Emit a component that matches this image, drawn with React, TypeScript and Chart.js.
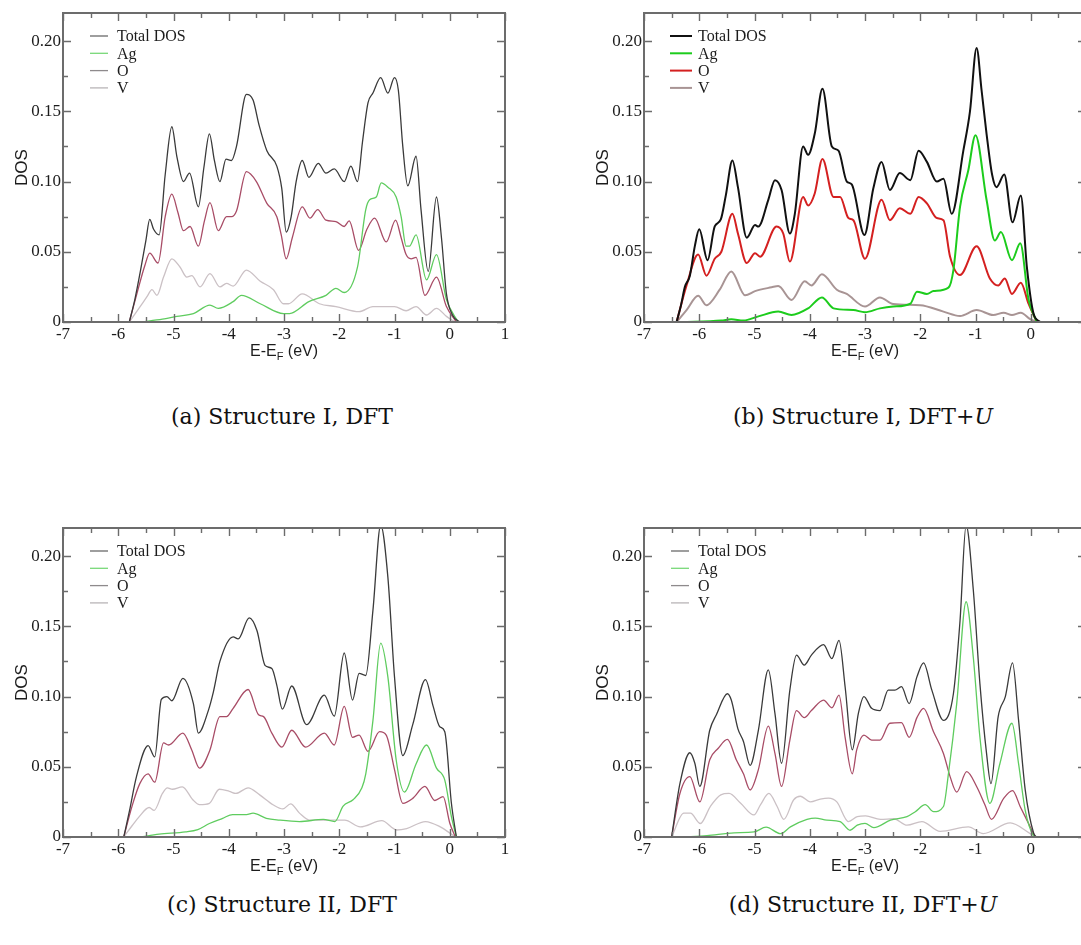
import { useEffect, useRef } from "react";
import { Chart, registerables } from "chart.js";

Chart.register(...registerables);

type Pt = [number, number];

// Energy (eV, relative to E_F) and DOS pairs for each projected curve.

// Structure I, DFT
const s1DftTotal: Pt[] = [[-5.80,0],[-5.70,0.016],[-5.60,0.036],[-5.50,0.058],[-5.43,0.073],[-5.36,0.066],[-5.26,0.062],[-5.15,0.105],[-5.03,0.139],[-4.94,0.118],[-4.82,0.100],[-4.71,0.106],[-4.55,0.082],[-4.45,0.110],[-4.35,0.134],[-4.26,0.115],[-4.16,0.100],[-4.05,0.116],[-3.95,0.115],[-3.86,0.125],[-3.68,0.162],[-3.56,0.158],[-3.45,0.140],[-3.31,0.122],[-3.13,0.111],[-3.04,0.095],[-2.96,0.064],[-2.87,0.075],[-2.78,0.100],[-2.67,0.115],[-2.55,0.103],[-2.38,0.113],[-2.24,0.106],[-2.09,0.109],[-1.91,0.100],[-1.79,0.111],[-1.67,0.100],[-1.58,0.128],[-1.48,0.156],[-1.39,0.163],[-1.25,0.174],[-1.12,0.163],[-1.00,0.174],[-0.93,0.165],[-0.85,0.125],[-0.76,0.097],[-0.61,0.118],[-0.52,0.080],[-0.39,0.036],[-0.24,0.089],[-0.15,0.060],[-0.06,0.020],[0.05,0.005],[0.18,0]];
const s1DftAg: Pt[] = [[-5.58,0],[-5.20,0.002],[-4.94,0.004],[-4.64,0.006],[-4.34,0.012],[-4.19,0.0097],[-3.92,0.0145],[-3.77,0.019],[-3.43,0.013],[-3.01,0.006],[-2.90,0.006],[-2.55,0.0145],[-2.24,0.019],[-2.06,0.024],[-1.91,0.021],[-1.67,0.039],[-1.52,0.080],[-1.45,0.087],[-1.33,0.089],[-1.24,0.099],[-1.12,0.096],[-0.97,0.089],[-0.88,0.075],[-0.79,0.054],[-0.73,0.054],[-0.61,0.062],[-0.42,0.030],[-0.24,0.048],[-0.06,0.016],[0.15,0]];
const s1DftO: Pt[] = [[-5.80,0],[-5.65,0.022],[-5.52,0.040],[-5.43,0.049],[-5.28,0.042],[-5.15,0.075],[-5.03,0.091],[-4.92,0.078],[-4.82,0.065],[-4.70,0.068],[-4.55,0.054],[-4.44,0.072],[-4.34,0.085],[-4.19,0.065],[-4.04,0.075],[-3.95,0.075],[-3.86,0.079],[-3.68,0.107],[-3.50,0.100],[-3.31,0.0845],[-3.13,0.075],[-3.05,0.062],[-2.96,0.045],[-2.85,0.060],[-2.67,0.082],[-2.53,0.074],[-2.39,0.080],[-2.24,0.0725],[-2.06,0.0715],[-1.91,0.068],[-1.82,0.072],[-1.65,0.051],[-1.50,0.066],[-1.36,0.074],[-1.15,0.057],[-0.98,0.0725],[-0.88,0.060],[-0.79,0.048],[-0.70,0.045],[-0.61,0.046],[-0.45,0.019],[-0.24,0.032],[-0.06,0.011],[0.12,0]];
const s1DftV: Pt[] = [[-5.80,0],[-5.62,0.010],[-5.48,0.018],[-5.39,0.023],[-5.30,0.019],[-5.18,0.032],[-5.03,0.045],[-4.88,0.039],[-4.76,0.032],[-4.67,0.033],[-4.52,0.025],[-4.34,0.0345],[-4.16,0.025],[-4.04,0.0275],[-3.92,0.0256],[-3.68,0.037],[-3.43,0.029],[-3.19,0.023],[-3.01,0.013],[-2.92,0.013],[-2.67,0.020],[-2.36,0.013],[-2.06,0.011],[-1.64,0.0074],[-1.39,0.011],[-1.00,0.011],[-0.79,0.008],[-0.61,0.011],[-0.42,0.005],[-0.24,0.0097],[-0.06,0.004],[0.10,0]];

// Structure I, DFT+U
const s1DftuTotal: Pt[] = [[-6.41,0],[-6.33,0.012],[-6.26,0.025],[-6.17,0.033],[-6.08,0.054],[-6.00,0.066],[-5.85,0.044],[-5.72,0.068],[-5.61,0.073],[-5.52,0.090],[-5.40,0.115],[-5.30,0.096],[-5.14,0.060],[-4.99,0.069],[-4.93,0.068],[-4.75,0.087],[-4.63,0.101],[-4.51,0.094],[-4.36,0.063],[-4.27,0.077],[-4.12,0.125],[-4.03,0.119],[-3.91,0.134],[-3.77,0.166],[-3.60,0.125],[-3.48,0.122],[-3.33,0.100],[-3.24,0.098],[-3.01,0.062],[-2.85,0.095],[-2.70,0.114],[-2.55,0.094],[-2.37,0.106],[-2.18,0.101],[-2.03,0.122],[-1.88,0.114],[-1.70,0.100],[-1.58,0.102],[-1.43,0.077],[-1.22,0.122],[-1.10,0.150],[-0.98,0.195],[-0.89,0.165],[-0.80,0.134],[-0.70,0.105],[-0.62,0.096],[-0.48,0.105],[-0.33,0.071],[-0.18,0.090],[-0.07,0.039],[0.05,0.006],[0.17,0]];
const s1DftuAg: Pt[] = [[-6.32,0],[-5.60,0.001],[-5.42,0.002],[-5.20,0.001],[-4.93,0.004],[-4.57,0.0074],[-4.33,0.005],[-4.03,0.0097],[-3.78,0.0175],[-3.57,0.0097],[-3.21,0.0085],[-3.00,0.007],[-2.73,0.0097],[-2.49,0.011],[-2.18,0.013],[-2.06,0.0216],[-1.88,0.020],[-1.76,0.022],[-1.49,0.0245],[-1.40,0.037],[-1.28,0.082],[-1.13,0.108],[-1.00,0.133],[-0.80,0.087],[-0.65,0.058],[-0.54,0.064],[-0.34,0.044],[-0.19,0.056],[-0.04,0.016],[0.11,0]];
const s1DftuO: Pt[] = [[-6.41,0],[-6.23,0.026],[-6.02,0.048],[-5.87,0.033],[-5.72,0.045],[-5.60,0.050],[-5.40,0.077],[-5.30,0.063],[-5.14,0.042],[-4.99,0.049],[-4.90,0.0465],[-4.60,0.068],[-4.48,0.063],[-4.36,0.043],[-4.12,0.089],[-4.03,0.083],[-3.91,0.0915],[-3.77,0.116],[-3.57,0.089],[-3.45,0.089],[-3.30,0.074],[-3.21,0.0725],[-3.00,0.045],[-2.70,0.087],[-2.55,0.0725],[-2.37,0.081],[-2.18,0.077],[-2.03,0.089],[-1.88,0.0845],[-1.70,0.074],[-1.58,0.0725],[-1.46,0.0465],[-1.28,0.0335],[-0.98,0.054],[-0.74,0.031],[-0.59,0.026],[-0.47,0.031],[-0.34,0.020],[-0.18,0.028],[-0.04,0.013],[0.11,0]];
const s1DftuV: Pt[] = [[-6.41,0],[-6.23,0.0085],[-6.02,0.0187],[-5.87,0.012],[-5.63,0.023],[-5.42,0.036],[-5.17,0.019],[-4.99,0.022],[-4.69,0.0247],[-4.57,0.0256],[-4.33,0.0157],[-4.09,0.029],[-3.97,0.026],[-3.78,0.034],[-3.51,0.023],[-3.33,0.020],[-3.00,0.011],[-2.73,0.0175],[-2.49,0.0128],[-2.00,0.012],[-1.58,0.0074],[-1.28,0.0043],[-0.98,0.0085],[-0.68,0.005],[-0.49,0.0066],[-0.34,0.005],[-0.18,0.0066],[-0.01,0.002],[0.12,0]];

// Structure II, DFT
const s2DftTotal: Pt[] = [[-5.90,0],[-5.80,0.018],[-5.67,0.043],[-5.46,0.065],[-5.34,0.057],[-5.22,0.098],[-5.12,0.100],[-5.03,0.097],[-4.83,0.113],[-4.64,0.095],[-4.55,0.074],[-4.37,0.090],[-4.28,0.103],[-4.16,0.125],[-3.92,0.1425],[-3.83,0.141],[-3.63,0.156],[-3.49,0.147],[-3.34,0.122],[-3.22,0.120],[-3.13,0.108],[-3.03,0.091],[-2.86,0.1075],[-2.59,0.080],[-2.27,0.101],[-2.09,0.086],[-1.91,0.131],[-1.76,0.0975],[-1.64,0.1165],[-1.52,0.115],[-1.39,0.1615],[-1.25,0.222],[-1.12,0.185],[-1.00,0.114],[-0.85,0.058],[-0.67,0.080],[-0.44,0.112],[-0.30,0.093],[-0.18,0.0785],[-0.09,0.075],[0.03,0.024],[0.12,0]];
const s2DftAg: Pt[] = [[-5.60,0],[-5.26,0.002],[-4.78,0.0036],[-4.56,0.0053],[-4.35,0.0096],[-4.11,0.0133],[-3.93,0.016],[-3.68,0.016],[-3.56,0.017],[-3.32,0.0133],[-3.08,0.012],[-2.72,0.011],[-2.29,0.0125],[-2.08,0.011],[-1.93,0.022],[-1.75,0.0265],[-1.59,0.035],[-1.52,0.045],[-1.39,0.083],[-1.25,0.138],[-1.12,0.114],[-0.97,0.055],[-0.82,0.032],[-0.61,0.052],[-0.42,0.0655],[-0.24,0.049],[-0.09,0.0405],[0.03,0.0145],[0.12,0]];
const s2DftO: Pt[] = [[-5.90,0],[-5.75,0.022],[-5.61,0.038],[-5.46,0.045],[-5.34,0.039],[-5.18,0.067],[-5.09,0.0655],[-4.83,0.074],[-4.67,0.062],[-4.53,0.049],[-4.34,0.062],[-4.16,0.0857],[-4.04,0.0857],[-3.92,0.0916],[-3.65,0.105],[-3.46,0.087],[-3.37,0.0857],[-3.22,0.074],[-3.04,0.064],[-2.86,0.076],[-2.61,0.064],[-2.27,0.074],[-2.09,0.0655],[-1.91,0.093],[-1.76,0.071],[-1.64,0.0726],[-1.48,0.061],[-1.27,0.075],[-1.15,0.0726],[-1.00,0.048],[-0.85,0.024],[-0.67,0.0275],[-0.45,0.036],[-0.27,0.026],[-0.12,0.0287],[0.00,0.010],[0.10,0]];
const s2DftV: Pt[] = [[-5.90,0],[-5.75,0.008],[-5.62,0.0145],[-5.44,0.021],[-5.35,0.019],[-5.20,0.031],[-5.11,0.035],[-5.02,0.034],[-4.84,0.0357],[-4.65,0.0265],[-4.53,0.023],[-4.35,0.024],[-4.17,0.034],[-3.99,0.0325],[-3.87,0.031],[-3.65,0.035],[-3.44,0.030],[-3.20,0.023],[-3.02,0.020],[-2.88,0.0236],[-2.72,0.017],[-2.53,0.012],[-2.23,0.012],[-1.90,0.012],[-1.62,0.0072],[-1.23,0.0116],[-0.96,0.005],[-0.78,0.006],[-0.44,0.011],[-0.17,0.0072],[0.07,0.001],[0.12,0]];

// Structure II, DFT+U
const s2DftuTotal: Pt[] = [[-6.50,0],[-6.35,0.038],[-6.17,0.060],[-6.08,0.0525],[-5.99,0.036],[-5.81,0.076],[-5.69,0.087],[-5.49,0.102],[-5.42,0.0975],[-5.30,0.077],[-5.20,0.068],[-5.08,0.051],[-4.93,0.076],[-4.75,0.119],[-4.63,0.088],[-4.51,0.0525],[-4.36,0.1046],[-4.24,0.1295],[-4.10,0.1224],[-3.97,0.1295],[-3.75,0.137],[-3.60,0.127],[-3.47,0.140],[-3.36,0.107],[-3.23,0.062],[-3.12,0.088],[-3.02,0.100],[-2.88,0.0916],[-2.73,0.090],[-2.58,0.1046],[-2.46,0.1046],[-2.34,0.107],[-2.20,0.095],[-2.06,0.114],[-1.94,0.124],[-1.79,0.1046],[-1.58,0.083],[-1.40,0.102],[-1.28,0.154],[-1.17,0.222],[-1.04,0.176],[-0.92,0.109],[-0.80,0.0595],[-0.72,0.038],[-0.59,0.0856],[-0.46,0.100],[-0.33,0.124],[-0.22,0.083],[-0.10,0.0335],[0.05,0.003],[0.10,0]];
const s2DftuAg: Pt[] = [[-6.30,0],[-5.86,0.001],[-5.37,0.003],[-5.01,0.0036],[-4.79,0.007],[-4.53,0.0024],[-4.35,0.0072],[-4.05,0.0125],[-3.90,0.0135],[-3.69,0.012],[-3.45,0.011],[-3.27,0.0048],[-3.14,0.0084],[-3.00,0.0097],[-2.84,0.0067],[-2.54,0.012],[-2.24,0.0145],[-2.09,0.018],[-1.91,0.023],[-1.76,0.018],[-1.58,0.0217],[-1.49,0.045],[-1.34,0.095],[-1.17,0.1675],[-1.04,0.128],[-0.92,0.071],[-0.74,0.024],[-0.56,0.052],[-0.34,0.081],[-0.22,0.052],[-0.10,0.019],[0.05,0.001],[0.10,0]];
const s2DftuO: Pt[] = [[-6.50,0],[-6.35,0.031],[-6.17,0.043],[-5.99,0.025],[-5.81,0.055],[-5.66,0.063],[-5.49,0.0695],[-5.33,0.055],[-5.20,0.045],[-5.08,0.0335],[-4.93,0.048],[-4.75,0.079],[-4.63,0.0595],[-4.51,0.036],[-4.36,0.069],[-4.24,0.090],[-4.10,0.085],[-3.97,0.090],[-3.75,0.0975],[-3.60,0.092],[-3.47,0.101],[-3.36,0.071],[-3.23,0.045],[-3.15,0.062],[-3.02,0.0726],[-2.88,0.069],[-2.73,0.069],[-2.55,0.081],[-2.34,0.0814],[-2.20,0.071],[-2.06,0.085],[-1.94,0.0916],[-1.76,0.075],[-1.58,0.0595],[-1.46,0.043],[-1.34,0.032],[-1.16,0.0465],[-0.98,0.036],[-0.83,0.023],[-0.71,0.0126],[-0.49,0.0275],[-0.33,0.033],[-0.19,0.0216],[-0.07,0.012],[0.08,0]];
const s2DftuV: Pt[] = [[-6.50,0],[-6.28,0.017],[-6.16,0.017],[-5.98,0.0096],[-5.80,0.0217],[-5.61,0.030],[-5.46,0.031],[-5.25,0.024],[-5.01,0.0157],[-4.89,0.023],[-4.74,0.031],[-4.59,0.0217],[-4.47,0.0125],[-4.29,0.0265],[-4.17,0.029],[-3.99,0.025],[-3.81,0.027],[-3.66,0.0277],[-3.51,0.025],[-3.30,0.011],[-3.14,0.0145],[-2.99,0.015],[-2.72,0.0125],[-2.48,0.013],[-2.24,0.0084],[-1.97,0.011],[-1.64,0.004],[-1.13,0.0072],[-0.86,0.0024],[-0.37,0.010],[-0.01,0.0024],[0.10,0]];

const seriesLabels = ["Total DOS", "Ag", "O", "V"];
const xTicks = [-7, -6, -5, -4, -3, -2, -1, 0, 1];
const yTicks = [0, 0.05, 0.1, 0.15, 0.2];
const X_MIN = -7;
const X_MAX = 1;
const Y_MAX = 0.22;

const CANVAS_W = 540;
const CANVAS_H = 370;
const AREA_LEFT = 63;
const AREA_TOP = 13;
const AREA_RIGHT = 505;
const AREA_BOTTOM = 322;

type Panel = {
  id: string;
  left: number;
  top: number;
  series: Pt[][];
  colors: string[];
  legendColors: string[];
  lineWidth: number;
  legendLine: [number, number];
};

const thinColors = ["#3a3a3a", "#5fcc5f", "#a84c66", "#cbc1c5"];
const thinLegend = ["#6a6a6a", "#78d878", "#8e8a8c", "#b9b5b7"];
const boldColors = ["#111111", "#1ccc1c", "#d42020", "#a89494"];

const panels: Panel[] = [
  { id: "a", left: 0, top: 0, series: [s1DftTotal, s1DftAg, s1DftO, s1DftV], colors: thinColors, legendColors: thinLegend, lineWidth: 1.3, legendLine: [27, 45] },
  { id: "b", left: 581, top: 0, series: [s1DftuTotal, s1DftuAg, s1DftuO, s1DftuV], colors: boldColors, legendColors: boldColors, lineWidth: 2, legendLine: [26, 48] },
  { id: "c", left: 0, top: 515, series: [s2DftTotal, s2DftAg, s2DftO, s2DftV], colors: thinColors, legendColors: thinLegend, lineWidth: 1.3, legendLine: [27, 45] },
  { id: "d", left: 581, top: 515, series: [s2DftuTotal, s2DftuAg, s2DftuO, s2DftuV], colors: thinColors, legendColors: thinLegend, lineWidth: 1.3, legendLine: [27, 45] },
];

const FRAME = "#6c6c6c";
const TEXT = "#1c1c1c";
const SERIF = "'Liberation Serif', 'Times New Roman', serif";
const SANS = "'Liberation Sans', Arial, sans-serif";

Chart.defaults.font.family = SERIF;
Chart.defaults.font.size = 17;
Chart.defaults.color = TEXT;

function decorate(chart: Chart, p: Panel) {
  const { ctx, chartArea: a } = chart;
  const xs = chart.scales.x;
  const ys = chart.scales.y;
  ctx.save();

  // frame
  ctx.strokeStyle = FRAME;
  ctx.lineWidth = 2;
  ctx.strokeRect(a.left, a.top, a.right - a.left, a.bottom - a.top);

  // inward ticks on all four sides
  ctx.lineWidth = 1.4;
  ctx.beginPath();
  for (let i = 0; i < xTicks.length; i++) {
    const marks: [number, number][] = [[xTicks[i], 8]];
    if (i < xTicks.length - 1) marks.push([(xTicks[i] + xTicks[i + 1]) / 2, 5]);
    for (const [v, len] of marks) {
      const px = Math.round(xs.getPixelForValue(v)) + 0.5;
      ctx.moveTo(px, a.bottom);
      ctx.lineTo(px, a.bottom - len);
      ctx.moveTo(px, a.top);
      ctx.lineTo(px, a.top + len);
    }
  }
  for (let i = 0; i < yTicks.length; i++) {
    const marks: [number, number][] = [[yTicks[i], 8], [yTicks[i] + 0.025, 5]];
    for (const [v, len] of marks) {
      if (v > Y_MAX) continue;
      const py = Math.round(ys.getPixelForValue(v)) + 0.5;
      ctx.moveTo(a.left, py);
      ctx.lineTo(a.left + len, py);
      ctx.moveTo(a.right, py);
      ctx.lineTo(a.right - len, py);
    }
  }
  ctx.stroke();

  // axis titles
  ctx.fillStyle = TEXT;
  ctx.textBaseline = "middle";
  ctx.textAlign = "center";
  ctx.font = `17px ${SANS}`;
  ctx.save();
  ctx.translate(a.left - 41, (a.top + a.bottom) / 2);
  ctx.rotate(-Math.PI / 2);
  ctx.fillText("DOS", 0, 0);
  ctx.restore();

  const main = `16px ${SANS}`;
  const sub = `11px ${SANS}`;
  ctx.font = main;
  const w1 = ctx.measureText("E-E").width;
  const w3 = ctx.measureText(" (eV)").width;
  ctx.font = sub;
  const w2 = ctx.measureText("F").width;
  const total = w1 + w2 + w3;
  let x = (a.left + a.right) / 2 - total / 2;
  const y = a.bottom + 30;
  ctx.textAlign = "left";
  ctx.font = main;
  ctx.fillText("E-E", x, y);
  x += w1;
  ctx.font = sub;
  ctx.fillText("F", x, y + 5);
  x += w2;
  ctx.font = main;
  ctx.fillText(" (eV)", x, y);

  // legend
  ctx.font = `16px ${SERIF}`;
  ctx.textAlign = "left";
  seriesLabels.forEach((label, i) => {
    const ly = a.top + 23 + i * 17.3;
    ctx.strokeStyle = p.legendColors[i];
    ctx.lineWidth = p.lineWidth;
    ctx.beginPath();
    ctx.moveTo(a.left + p.legendLine[0], ly);
    ctx.lineTo(a.left + p.legendLine[1], ly);
    ctx.stroke();
    ctx.fillStyle = TEXT;
    ctx.fillText(label, a.left + 54, ly + 1);
  });

  ctx.restore();
}

function DosPanel({ p }: { p: Panel }) {
  const ref = useRef<HTMLCanvasElement>(null);
  useEffect(() => {
    const canvas = ref.current;
    if (!canvas) return;
    const tickFont = { family: SERIF, size: 17 };
    const chart = new Chart(canvas, {
      type: "line",
      data: {
        datasets: p.series.map((pts, i) => ({
          label: seriesLabels[i],
          data: pts.map(([x, y]) => ({ x, y })),
          borderColor: p.colors[i],
          borderWidth: p.lineWidth,
          pointRadius: 0,
          fill: false,
          tension: 0.4,
          cubicInterpolationMode: "monotone" as const,
          clip: 0,
        })),
      },
      options: {
        animation: false,
        responsive: false,
        maintainAspectRatio: false,
        devicePixelRatio: 1,
        events: [],
        layout: { padding: { left: 0, top: AREA_TOP, right: CANVAS_W - AREA_RIGHT, bottom: 0 } },
        plugins: { legend: { display: false }, tooltip: { enabled: false } },
        scales: {
          x: {
            type: "linear",
            min: X_MIN,
            max: X_MAX,
            grid: { display: false, drawTicks: false },
            border: { display: false },
            afterFit: (s: any) => { s.height = CANVAS_H - AREA_BOTTOM; },
            afterBuildTicks: (s: any) => { s.ticks = xTicks.map((value) => ({ value })); },
            ticks: {
              autoSkip: false,
              maxRotation: 0,
              padding: 2,
              color: TEXT,
              font: tickFont,
              callback: (v: any) => String(v),
            },
          },
          y: {
            type: "linear",
            min: 0,
            max: Y_MAX,
            grid: { display: false, drawTicks: false },
            border: { display: false },
            afterFit: (s: any) => { s.width = AREA_LEFT; },
            afterBuildTicks: (s: any) => { s.ticks = yTicks.map((value) => ({ value })); },
            ticks: {
              autoSkip: false,
              padding: 2,
              color: TEXT,
              font: tickFont,
              callback: (v: any) => (Number(v) === 0 ? "0" : Number(v).toFixed(2)),
            },
          },
        },
      },
      plugins: [{ id: "decor" + p.id, afterDatasetsDraw: (c: Chart) => decorate(c, p) }],
    });
    return () => chart.destroy();
  }, [p]);
  return (
    <canvas
      ref={ref}
      width={CANVAS_W}
      height={CANVAS_H}
      style={{ position: "absolute", left: p.left, top: p.top, width: CANVAS_W, height: CANVAS_H }}
    />
  );
}

const captionStyle = (cx: number, top: number): React.CSSProperties => ({
  position: "absolute",
  left: cx - 300,
  width: 600,
  top,
  textAlign: "center",
  fontFamily: "'DejaVu Serif', serif",
  fontSize: 22,
  lineHeight: "30px",
  color: "#111",
  whiteSpace: "nowrap",
});

export default function App() {
  return (
    <div
      style={{
        position: "fixed",
        left: 0,
        top: 0,
        width: 1081,
        height: 945,
        overflow: "hidden",
        background: "#ffffff",
      }}
    >
      {panels.map((p) => (
        <DosPanel key={p.id} p={p} />
      ))}
      <div style={captionStyle(282, 402)}>(a) Structure I, DFT</div>
      <div style={captionStyle(863, 402)}>
        (b) Structure I, DFT+<i>U</i>
      </div>
      <div style={captionStyle(282, 890)}>(c) Structure II, DFT</div>
      <div style={captionStyle(863, 890)}>
        (d) Structure II, DFT+<i>U</i>
      </div>
    </div>
  );
}
